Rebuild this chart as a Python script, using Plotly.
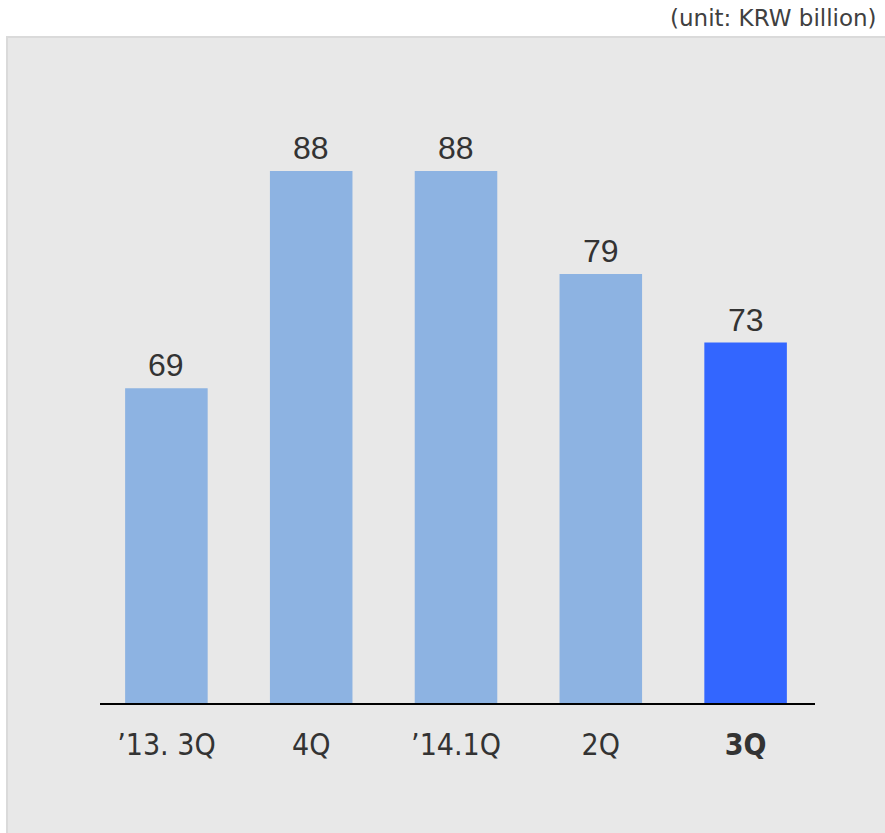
import plotly.graph_objects as go

# Quarterly values (KRW billion)
quarters = ["’13. 3Q", "4Q", "’14.1Q", "2Q", "3Q"]
tick_text = ["’13. 3Q", "4Q", "’14.1Q", "2Q", "<b>3Q</b>"]
values = [69, 88, 88, 79, 73]
bar_colors = ["#8db3e2", "#8db3e2", "#8db3e2", "#8db3e2", "#3366ff"]

W, H = 885, 833


def px_x(p):
    return p / W


def px_y(p):
    return 1 - p / H


fig = go.Figure()
fig.add_trace(go.Bar(
    x=quarters,
    y=values,
    marker=dict(color=bar_colors, line=dict(width=0)),
    width=0.57,
    hoverinfo="skip",
))

# value labels above each bar
value_labels = [
    dict(x=q, y=v, xref="x", yref="y", text=str(v), showarrow=False,
         xanchor="center", yanchor="bottom", yshift=3,
         font=dict(family="Liberation Sans, Arial, sans-serif", size=32, color="#333333"))
    for q, v in zip(quarters, values)
]

fig.update_layout(
    width=W,
    height=H,
    margin=dict(l=0, r=0, t=0, b=0),
    paper_bgcolor="white",
    plot_bgcolor="rgba(0,0,0,0)",
    showlegend=False,
    xaxis=dict(
        domain=[px_x(94), px_x(818)],
        tickmode="array",
        tickvals=quarters,
        ticktext=tick_text,
        tickfont=dict(family="DejaVu Sans Condensed, DejaVu Sans, sans-serif", size=30, color="#333333"),
        ticklabelstandoff=20,
        showline=False,
        showgrid=False,
        zeroline=False,
        ticks="",
        automargin=False,
        fixedrange=True,
    ),
    yaxis=dict(
        domain=[px_y(704), px_y(100)],
        range=[41.4, 94.2],
        visible=False,
        automargin=False,
        fixedrange=True,
    ),
    shapes=[
        # grey panel behind the chart
        dict(type="rect", xref="paper", yref="paper", layer="below",
             x0=px_x(7), x1=px_x(886), y0=px_y(834), y1=px_y(37),
             fillcolor="#e8e8e8", line=dict(color="#dadada", width=2)),
        # baseline
        dict(type="line", xref="paper", yref="paper", layer="above",
             x0=px_x(100), x1=px_x(815), y0=px_y(704), y1=px_y(704),
             line=dict(color="#000000", width=2)),
    ],
    annotations=value_labels + [
        dict(text="(unit: KRW billion)", xref="paper", yref="paper",
             x=px_x(879), y=px_y(18), xanchor="right", yanchor="middle",
             showarrow=False,
             font=dict(family="DejaVu Sans, sans-serif", size=23, color="#404040")),
    ],
)

fig.write_html("out.html")
